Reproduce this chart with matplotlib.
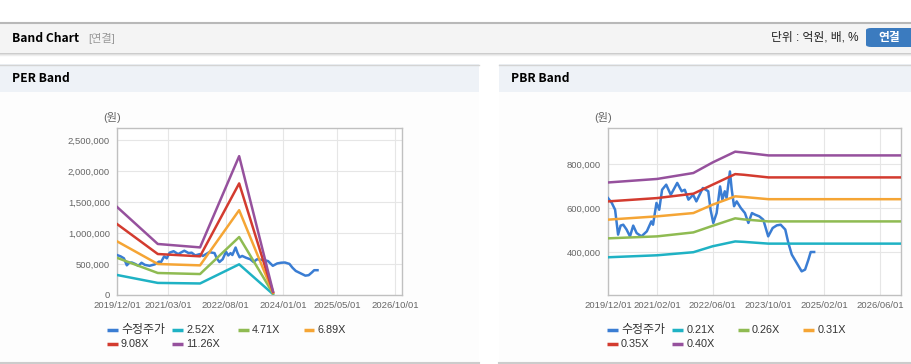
import pandas as pd
import matplotlib.pyplot as plt
from matplotlib.patches import Rectangle, FancyBboxPatch
from matplotlib.lines import Line2D
from matplotlib.ticker import FuncFormatter

plt.rcParams['font.family'] = ['Liberation Sans', 'Noto Sans CJK KR']

# adjusted share price (same series used in both panels)
price_dates = ['2019-12-01', '2020-01-03', '2020-02-01', '2020-02-27', '2020-03-20', '2020-04-12',
               '2020-05-11', '2020-06-10', '2020-07-08', '2020-08-07', '2020-09-18', '2020-11-04',
               '2020-12-13', '2020-12-28', '2021-01-27', '2021-02-20', '2021-03-17', '2021-04-22',
               '2021-06-01', '2021-07-27', '2021-09-04', '2021-10-01', '2021-11-02', '2021-12-13',
               '2022-01-10', '2022-03-08', '2022-04-24', '2022-05-14', '2022-06-07', '2022-07-06',
               '2022-08-05', '2022-08-25', '2022-09-15', '2022-10-01', '2022-10-30', '2022-11-15',
               '2022-12-05', '2022-12-28', '2023-02-02', '2023-03-10', '2023-04-09', '2023-05-10',
               '2023-06-05', '2023-07-13', '2023-08-17', '2023-09-29', '2023-11-07', '2023-12-13',
               '2024-01-16', '2024-02-25', '2024-03-23', '2024-04-22', '2024-06-04', '2024-07-17',
               '2024-08-16', '2024-09-14', '2024-10-04', '2024-11-03']
price = [645000, 623000, 592000, 479000, 520000, 524000,
         502000, 471000, 520000, 486000, 471000, 494000,
         539000, 524000, 623000, 592000, 683000, 706000,
         660000, 714000, 676000, 683000, 638000, 660000,
         630000, 691000, 676000, 592000, 532000, 577000,
         698000, 638000, 676000, 645000, 766000, 683000,
         608000, 630000, 600000, 577000, 532000, 577000,
         570000, 562000, 547000, 471000, 509000, 521000,
         524000, 502000, 441000, 388000, 350000, 312000,
         320000, 365000, 400000, 400000]

# PER band values
per_dates = ['2019-12-01', '2020-12-01', '2021-12-15', '2022-12-01', '2023-10-01']
per_252 = [323000, 195000, 186000, 495000, 13000]
per_471 = [600000, 355000, 338000, 935000, 24000]
per_689 = [866000, 500000, 478000, 1368000, 36000]
per_908 = [1145000, 661000, 624000, 1800000, 47000]
per_1126 = [1421000, 823000, 768000, 2240000, 58000]

# PBR band values
pbr_dates = ['2019-12-01', '2021-02-01', '2021-12-15', '2022-06-01', '2022-12-15',
             '2023-03-01', '2023-10-01', '2026-12-01']
pbr_021 = [376000, 385000, 399000, 426000, 448000, 446000, 438000, 438000]
pbr_026 = [462000, 471000, 489000, 519000, 553000, 548000, 539000, 539000]
pbr_031 = [547000, 562000, 577000, 615000, 653000, 650000, 640000, 640000]
pbr_035 = [630000, 645000, 665000, 706000, 754000, 751000, 739000, 739000]
pbr_040 = [716000, 732000, 759000, 807000, 856000, 852000, 839000, 839000]

per_labels = ['수정주가', '2.52X', '4.71X', '6.89X', '9.08X', '11.26X']
pbr_labels = ['수정주가', '0.21X', '0.26X', '0.31X', '0.35X', '0.40X']
colors = ['#3a7dd3', '#1fb2c4', '#8fbb52', '#f5a535', '#d33b2f', '#96519d']

per_ticks = ['2019/12/01', '2021/03/01', '2022/08/01', '2024/01/01', '2025/05/01', '2026/10/01']
pbr_ticks = ['2019/12/01', '2021/02/01', '2022/06/01', '2023/10/01', '2025/02/01', '2026/06/01']

W, H = 912, 364
fig = plt.figure(figsize=(W / 100, H / 100), dpi=100)


# pixel helpers (origin top-left like the screenshot)
def fx(x):
    return x / W


def fy(y):
    return 1 - y / H


def box(x0, y0, x1, y1, color):
    fig.patches.append(Rectangle((fx(x0), fy(y1)), fx(x1 - x0), (y1 - y0) / H,
                                 transform=fig.transFigure, color=color, lw=0, zorder=-2))


def hline(x0, x1, y, color, lw=1.0):
    fig.add_artist(Line2D([fx(x0), fx(x1)], [fy(y), fy(y)], transform=fig.transFigure,
                          color=color, lw=lw, zorder=-1))


# page header bar
box(0, 22, W, 52, '#f4f4f4')
hline(0, W, 22.5, '#b8b8b8', 1.5)
hline(0, W, 52.5, '#c8c8c8')
hline(0, W, 53.5, '#dddddd')
hline(0, W, 54.5, '#eeeeee')
fig.text(fx(12), fy(38), 'Band Chart', fontsize=8.7, fontweight='bold', va='center',
         family=['Noto Sans CJK KR'])
fig.text(fx(88), fy(38), '[연결]', fontsize=8, color='#999999', va='center')
fig.text(fx(859), fy(38), '단위 : 억원, 배, %', fontsize=8.5, color='#222222', va='center', ha='right')
fig.patches.append(FancyBboxPatch((fx(866), fy(47)), fx(50), 19 / H, transform=fig.transFigure,
                                  boxstyle='round,pad=0,rounding_size=0.006', color='#3b7bbf', lw=0))
fig.text(fx(889), fy(37.5), '연결', fontsize=8.5, color='white', fontweight='bold', va='center', ha='center')

# panel frames
for x0, x1, title in [(0, 479, 'PER Band'), (499, W, 'PBR Band')]:
    box(x0, 64, x1, 92, '#eef2f7')
    box(x0, 92, x1, 362, '#fdfdfd')
    hline(x0, x1, 64.5, '#d4d4d4')
    hline(x0, x1, 362.5, '#cccccc', 1.5)
    fig.text(fx(x0 + 12), fy(79), title, fontsize=8.7, fontweight='bold', va='center',
             family=['Noto Sans CJK KR'])


def draw_panel(left, width, band_dates, bands, labels, ticks, ylim, yticks, legend_x):
    ax = fig.add_axes([fx(left), fy(295), fx(width), 167 / H])
    ax.set_zorder(5)
    ax.set_facecolor('white')
    ax.plot(pd.to_datetime(price_dates), price, color=colors[0], lw=1.8, zorder=3)
    bd = pd.to_datetime(band_dates)
    for i, vals in enumerate(bands):
        ax.plot(bd, vals, color=colors[i + 1], lw=1.8, zorder=4 + i)
    ax.set_xlim(pd.Timestamp('2019-12-01'), pd.Timestamp('2026-12-01'))
    ax.set_ylim(*ylim)
    ax.set_xticks(pd.to_datetime(ticks))
    ax.set_xticklabels(ticks)
    ax.set_yticks(yticks)
    ax.yaxis.set_major_formatter(FuncFormatter(lambda v, p: f'{int(v):,}'))
    ax.tick_params(length=0, labelsize=6.8, labelcolor='#666666', pad=5)
    ax.tick_params(axis='x', pad=4)
    ax.grid(True, color='#e6e6e6', lw=0.8)
    ax.set_axisbelow(True)
    for s in ax.spines.values():
        s.set_color('#c0c0c0')
        s.set_linewidth(1.0)
    fig.text(fx(left - 5), fy(118), '(원)', fontsize=8, color='#666666', ha='center', va='center')

    # legend, four columns
    for i, lab in enumerate(labels):
        x = legend_x + (i % 4) * 65.5
        y = 330 + (i // 4) * 14
        fig.add_artist(Line2D([fx(x), fx(x + 11)], [fy(y), fy(y)], transform=fig.transFigure,
                              color=colors[i], lw=2.5, solid_capstyle='butt'))
        size = 8.6 if i == 0 else 7.8
        fig.text(fx(x + 14), fy(y), lab, fontsize=size, color='#333333', va='center')
    return ax


ax1 = draw_panel(117, 285, per_dates, [per_252, per_471, per_689, per_908, per_1126],
                 per_labels, per_ticks, (0, 2694000), [0, 500000, 1000000, 1500000, 2000000, 2500000], 107)
ax2 = draw_panel(608, 293, pbr_dates, [pbr_021, pbr_026, pbr_031, pbr_035, pbr_040],
                 pbr_labels, pbr_ticks, (204500, 963600), [400000, 600000, 800000], 607)

fig.savefig('out.png', dpi=100)
